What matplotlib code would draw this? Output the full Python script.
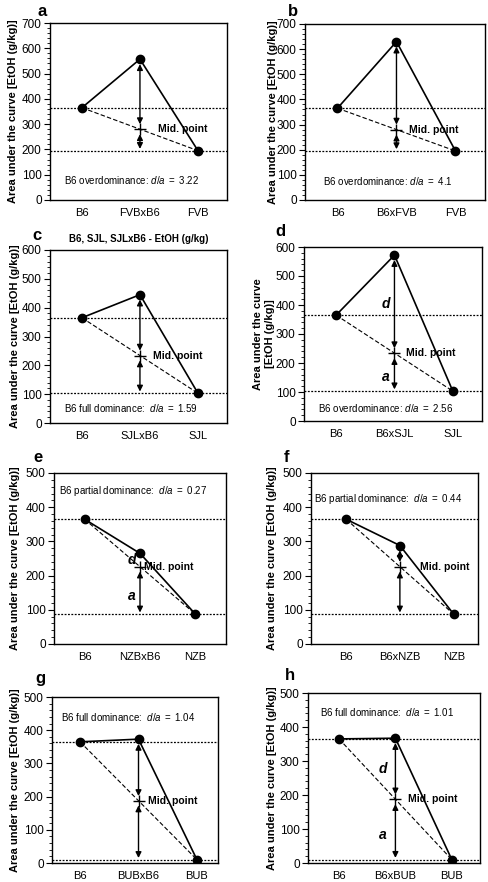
import matplotlib
matplotlib.use("Agg")
import matplotlib.pyplot as plt
from matplotlib.ticker import MultipleLocator

plt.rcParams['font.family'] = ['Liberation Sans', 'DejaVu Sans']
plt.rcParams['mathtext.fontset'] = 'custom'
plt.rcParams['mathtext.rm'] = 'Liberation Sans'
plt.rcParams['mathtext.it'] = 'Liberation Sans:italic'

# ---------------- data ----------------
panel_letters = ['a', 'b', 'c', 'd', 'e', 'f', 'g', 'h']
categories = [
    ['B6', 'FVBxB6', 'FVB'],
    ['B6', 'B6xFVB', 'FVB'],
    ['B6', 'SJLxB6', 'SJL'],
    ['B6', 'B6xSJL', 'SJL'],
    ['B6', 'NZBxB6', 'NZB'],
    ['B6', 'B6xNZB', 'NZB'],
    ['B6', 'BUBxB6', 'BUB'],
    ['B6', 'B6xBUB', 'BUB'],
]
b6_values = [365, 365, 365, 365, 365, 365, 365, 365]
hybrid_values = [557, 630, 445, 572, 265, 288, 373, 367]
parent_values = [195, 195, 103, 103, 87, 87, 10, 10]
dominance_text = ['B6 overdominance:', 'B6 overdominance:', 'B6 full dominance: ',
                  'B6 overdominance:', 'B6 partial dominance: ', 'B6 partial dominance: ',
                  'B6 full dominance: ', 'B6 full dominance: ']
d_over_a = ['3.22', '4.1', '1.59', '2.56', '0.27', '0.44', '1.04', '1.01']
y_max = [700, 700, 600, 600, 500, 500, 500, 500]
panel_c_title = 'B6, SJL, SJLxB6 - EtOH (g/kg)'
ylabel_text = 'Area under the curve [EtOH (g/kg)]'

# ---------------- layout (pixels) ----------------
W, H = 489, 882
axes_px = [  # left, right, top, bottom
    (50, 227, 23, 200), (305, 485, 24, 200),
    (50, 227, 250, 423), (304, 482, 247, 421),
    (54, 226, 473, 644), (311, 478, 473, 644),
    (52, 218, 697, 863), (308, 480, 693, 863),
]
xlims = [(-0.55, 2.5), (-0.55, 2.5), (-0.55, 2.5), (-0.55, 2.5),
         (-0.55, 2.55), (-0.65, 2.45), (-0.48, 2.36), (-0.55, 2.5)]
letter_px = [(42, 11), (293, 12), (37, 236), (280, 232),
             (38, 458), (287, 457), (40, 678), (290, 676)]
ylabel_x = [13, 273, 15, 264, 15, 272, 15, 272]
text_y = [0.115, 0.11, 0.085, 0.075, 0.895, 0.85, 0.88, 0.89]
midlabel_x = [1.31, 1.22, 1.22, 1.2, 1.08, 1.38, 1.17, 1.22]
show_da_labels = [False, False, False, True, True, False, False, True]
show_upper_arrow = [True, True, True, True, False, True, True, True]
label_x = [0.85, 0.85, 0.85, 0.86, 0.86, 0.85, 0.85, 0.78]

fig = plt.figure(figsize=(W / 100, H / 100), dpi=100)

for i in range(8):
    l, r, t, b = axes_px[i]
    ax = fig.add_axes([l / W, 1 - b / H, (r - l) / W, (b - t) / H])
    ymax = y_max[i]
    p1, hyb, p2 = b6_values[i], hybrid_values[i], parent_values[i]
    mid = (p1 + p2) / 2
    x = [0, 1, 2]

    ax.axhline(p1, color='black', lw=0.9, ls=(0, (1.5, 1.2)), zorder=1)
    ax.axhline(p2, color='black', lw=0.9, ls=(0, (1.5, 1.2)), zorder=1)
    ax.plot([0, 2], [p1, p2], color='black', lw=0.8, ls=(0, (4, 2)), zorder=2)
    ax.plot(x, [p1, hyb, p2], color='black', lw=1.2, zorder=3)
    ax.plot(x, [p1, hyb, p2], 'o', color='black', ms=6, zorder=4)
    ax.plot([1], [mid], marker='+', color='black', ms=8, mew=1.0, zorder=4)

    gap = 0.028 * ymax
    arrow_kw = dict(arrowstyle='<|-|>', lw=1.0, color='black', mutation_scale=8.5,
                    shrinkA=0, shrinkB=0)
    if show_upper_arrow[i]:
        ax.annotate('', xy=(1, hyb - gap), xytext=(1, mid + gap), arrowprops=arrow_kw)
    ax.annotate('', xy=(1, mid - gap), xytext=(1, p2 + 0.01 * ymax), arrowprops=arrow_kw)

    ax.text(midlabel_x[i], mid, 'Mid. point', fontsize=7.5, fontweight='bold',
            ha='left', va='center')
    if show_da_labels[i]:
        ax.text(label_x[i], (hyb + mid) / 2, 'd', fontsize=10, fontweight='bold',
                style='italic', ha='center', va='center')
        ax.text(label_x[i], (mid + p2) / 2 - 0.03 * ymax, 'a', fontsize=10,
                fontweight='bold', style='italic', ha='center', va='center')

    ax.text(0.46, text_y[i],
            dominance_text[i] + r' $\mathit{d/a\ =\ ' + d_over_a[i] + '}$',
            transform=ax.transAxes, fontsize=7, ha='center', va='center')

    ax.set_xlim(*xlims[i])
    ax.set_ylim(0, ymax)
    ax.set_xticks(x)
    ax.set_xticklabels(categories[i], fontsize=8)
    ax.tick_params(axis='x', length=0, pad=6)
    ax.yaxis.set_major_locator(MultipleLocator(100))
    ax.yaxis.set_minor_locator(MultipleLocator(20))
    ax.tick_params(axis='y', which='major', length=4, width=0.8, labelsize=8.5, pad=2)
    ax.tick_params(axis='y', which='minor', length=2, width=0.6)
    for sp in ax.spines.values():
        sp.set_linewidth(1.0)

    lx, ly = letter_px[i]
    fig.text(lx / W, 1 - ly / H, panel_letters[i], fontsize=12, fontweight='bold',
             ha='center', va='center')

    yc = 1 - (t + b) / 2 / H
    if i == 3:
        fig.text(ylabel_x[i] / W, yc, 'Area under the curve\n[EtOH (g/kg)]', rotation=90,
                 fontsize=8, fontweight='bold', ha='center', va='center',
                 multialignment='center', linespacing=1.15)
    else:
        fig.text(ylabel_x[i] / W, yc, ylabel_text, rotation=90, fontsize=8,
                 fontweight='bold', ha='center', va='center')

    if i == 2:
        ax.set_title(panel_c_title, fontsize=7, fontweight='bold', pad=6)

fig.savefig('out.png', dpi=100)
